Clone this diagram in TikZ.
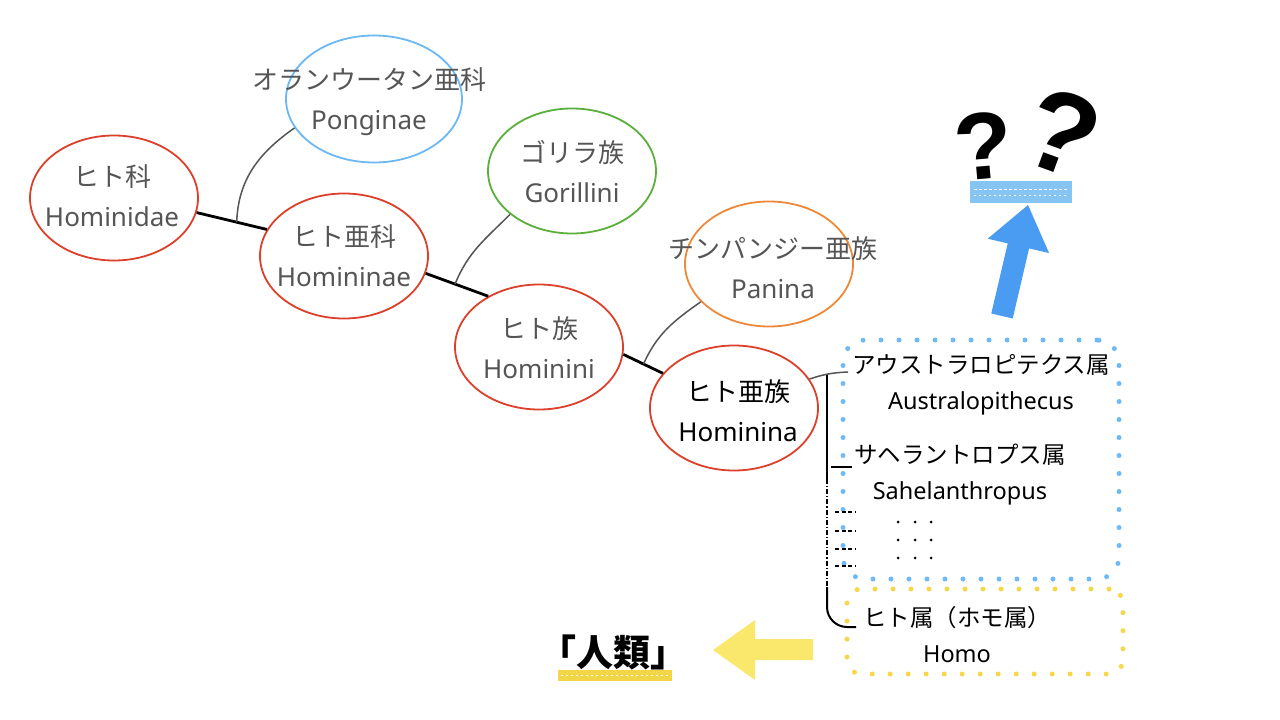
\documentclass[tikz,border=0pt]{standalone}
\usepackage{fontspec}
\setmainfont{Noto Sans}
\newfontfamily\jp{Noto Sans CJK JP}
\newfontfamily\qfont{Liberation Sans}
\usetikzlibrary{positioning,shapes.geometric}
\definecolor{cladered}{HTML}{DC3F2A}
\definecolor{pongblue}{HTML}{6CB8F4}
\definecolor{gorgreen}{HTML}{5AAF3A}
\definecolor{panorange}{HTML}{EE8838}
\definecolor{txtgray}{HTML}{555555}
\definecolor{twiggray}{HTML}{555555}
\definecolor{bluedot}{HTML}{6FBAF6}
\definecolor{yellowdot}{HTML}{F7D64A}
\definecolor{arrowblue}{HTML}{4A9CF2}
\definecolor{arrowyellow}{HTML}{FAE86D}
\definecolor{scribblue}{HTML}{86C4F4}
\definecolor{scribyellow}{HTML}{F3D648}
\begin{document}
\begin{tikzpicture}[x=1pt, y=1pt,
    clade/.style={draw, ellipse, line width=1.8pt, minimum width=168pt, minimum height=125pt, inner sep=0pt},
    taxon/.style={align=center, text=txtgray, font=\fontsize{26}{40}\selectfont},
    genus/.style={align=center, font=\fontsize{23.5}{36}\selectfont},
    trunk/.style={line width=2.8pt},
    twig/.style={draw=twiggray, line width=1.5pt},
    brack/.style={line width=2pt},
    dotbox/.style={line width=5pt, dash pattern=on 0pt off 18pt, line cap=round, rounded corners=22pt, inner sep=0pt},
    qmark/.style={inner sep=-4pt, font=\qfont\bfseries\fontsize{95}{100}\selectfont}]
    \useasboundingbox (0,0) rectangle (1280,-720);

    \node[clade, draw=cladered] (hmd) at (114,-198) {};
    \node[clade, draw=pongblue, minimum width=176pt, minimum height=127pt] (pon) at (374,-99) {};
    \node[clade, draw=cladered] (hmn) at (344,-256) {};
    \node[clade, draw=gorgreen] (gor) at (572,-171) {};
    \node[clade, draw=cladered] (hmi) at (539,-347) {};
    \node[clade, draw=panorange] (pan) at (769,-264) {};
    \node[clade, draw=cladered] (hma) at (734,-408) {};

    \node[taxon] (hmdT) at (112,-196) {{\jp ヒト科}\\Hominidae};
    \node[taxon] (ponT) at (369,-102) {{\jp オランウータン亜科}\\Ponginae};
    \node[taxon] (hmnT) at (344,-256) {{\jp ヒト亜科}\\Homininae};
    \node[taxon] (gorT) at (572,-172) {{\jp ゴリラ族}\\Gorillini};
    \node[taxon] (hmiT) at (539,-348) {{\jp ヒト族}\\Hominini};
    \node[taxon] (panT) at (773,-268) {{\jp チンパンジー亜族}\\Panina};
    \node[taxon, text=black] (hmaT) at (738,-411) {{\jp ヒト亜族}\\Hominina};

    \draw[trunk] (hmd.-10) -- coordinate[pos=0.57] (b1) (hmn.161);
    \draw[trunk] (hmn.-12) -- coordinate[pos=0.47] (b2) (hmi.135);
    \draw[trunk] (hmi.-5) -- coordinate[pos=0.51] (b3) (hma.154);
    \draw[twig] (b1) to[out=88, in=215] (pon.200);
    \draw[twig] (b2) to[out=68, in=225] (gor.215);
    \draw[twig] (b3) to[out=66, in=215] (pan.209);

    \node[dotbox, draw=bluedot, minimum width=276pt, minimum height=239pt] (ausBox) at (981,-459.5) {};
    \node[dotbox, draw=yellowdot, minimum width=276pt, minimum height=85pt, rounded corners=14pt] (homoBox) at (985,-631.5) {};

    \node[genus] (aus) at (981,-385) {{\jp アウストラロピテクス属}\\Australopithecus};
    \node[genus] (sah) at (960,-475) {{\jp サヘラントロプス属}\\Sahelanthropus};
    \node[genus] (homo) at (957,-635) {{\jp ヒト属（ホモ属）}\\Homo};
    \foreach \y in {522,540,558}
        \foreach \x in {898,915,931}
            \fill (\x,-\y) circle (1.5pt);

    \coordinate (ausTip) at (848,-372);
    \draw[twig] (hma.21) to[bend left=8] (ausTip);
    \draw[brack] (827,-375) -- (827,-479);
    \draw[brack, dash pattern=on 5pt off 2pt on 1.2pt off 2pt] (827,-479) -- (827,-586);
    \draw[brack, rounded corners=20pt] (827,-587) -- (827,-627) -- (856,-627);
    \draw[brack] (831,-467) -- (852,-467);
    \foreach \y in {512,531,549,566}
        \draw[line width=1.5pt, dash pattern=on 4pt off 2.5pt] (835,-\y) -- (856,-\y);

    \fill[arrowblue] (991.3,-313.5) -- (1007.7,-243.4) -- (987.7,-238.7) -- (1028,-205)
        -- (1049.1,-253.1) -- (1029.1,-248.4) -- (1012.7,-318.5) -- cycle;
    \fill[scribblue] (970,-181) rectangle (1072,-203);
    \draw[white, line width=0.8pt, dash pattern=on 3pt off 2pt] (974,-189) -- (1068,-189);
    \draw[white, line width=0.8pt, dash pattern=on 2pt off 3pt] (974,-195) -- (1068,-195);
    \node[qmark, rotate=5] (q1) at (984,-146) {?};
    \node[qmark, rotate=-20, font=\qfont\bfseries\fontsize{115}{120}\selectfont] (q2) at (1062,-133) {?};

    \fill[arrowyellow] (813,-639) -- (755,-639) -- (755,-620) -- (713,-650)
        -- (755,-680) -- (755,-660) -- (813,-660) -- cycle;
    \fill[scribyellow] (558,-670) rectangle (672,-681);
    \draw[white, line width=0.6pt, dash pattern=on 2pt off 3pt] (561,-675.5) -- (669,-675.5);
    \node[font=\jp\fontsize{37}{40}\selectfont\bfseries] (jinrui) at (613,-652) {「人類」};
\end{tikzpicture}
\end{document}
